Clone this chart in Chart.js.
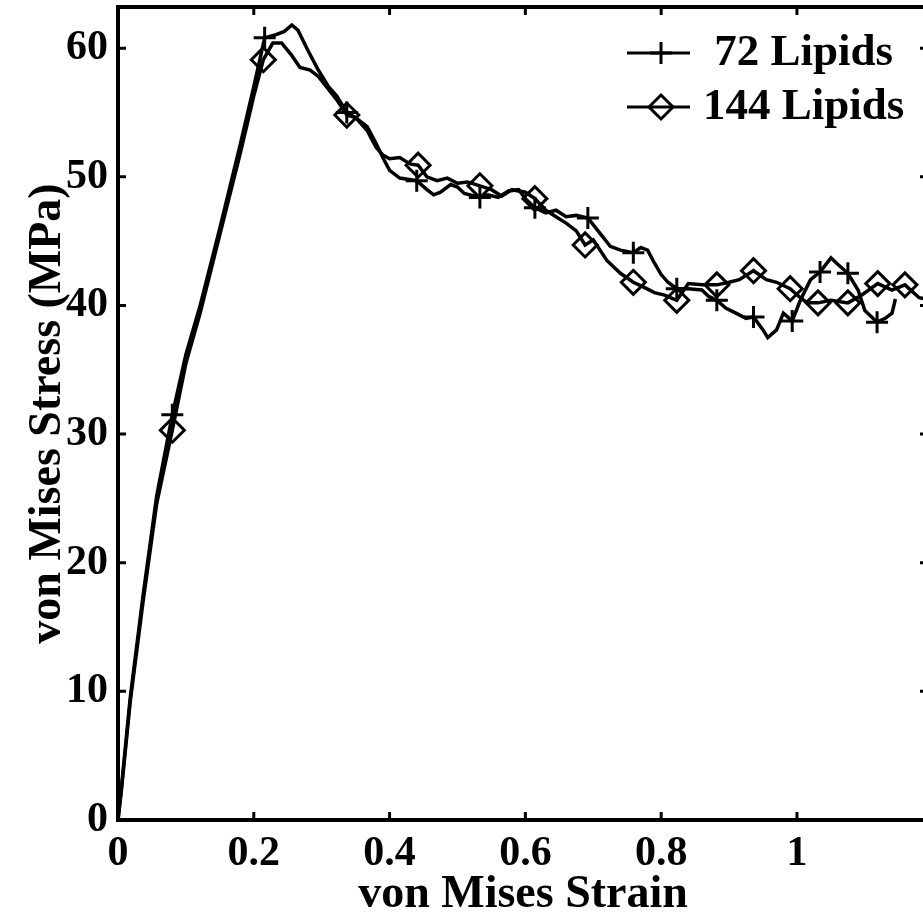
<!DOCTYPE html>
<html>
<head>
<meta charset="utf-8">
<script src="https://cdn.jsdelivr.net/npm/chart.js@4/dist/chart.umd.min.js"></script>
<style>
    html, body { margin: 0; padding: 0; background: #fff; overflow: hidden; }
    canvas { display: block; }
</style>
</head>
<body>
<canvas id="chart" width="940" height="923"></canvas>
<script>
// stress-strain curves
const strain72 = [
    0, 0.005, 0.018, 0.037, 0.057, 0.08, 0.10, 0.121, 0.15, 0.18,
    0.20, 0.216, 0.23, 0.245, 0.256, 0.265, 0.28, 0.295, 0.31, 0.322,
    0.337, 0.35, 0.367, 0.38, 0.39, 0.40, 0.415, 0.44, 0.455, 0.465,
    0.475, 0.49, 0.50, 0.51, 0.533, 0.545, 0.56, 0.575, 0.59, 0.60,
    0.614, 0.63, 0.645, 0.66, 0.675, 0.692, 0.71, 0.725, 0.74, 0.759,
    0.77, 0.78, 0.79, 0.80, 0.81, 0.823, 0.84, 0.86, 0.87, 0.882,
    0.895, 0.91, 0.925, 0.936, 0.95, 0.957, 0.97, 0.98, 0.993, 1.005,
    1.02, 1.034, 1.05, 1.06, 1.075, 1.09, 1.10, 1.118, 1.13, 1.14,
    1.145
];
const stress72 = [
    0, 2.5, 9.5, 17.5, 25.2, 31.5, 36.2, 40.0, 46.0, 52.5,
    57.0, 60.8, 61.0, 61.3, 61.8, 61.4, 59.8, 58.3, 57.0, 56.3,
    55.0, 54.6, 53.9, 52.6, 51.5, 50.5, 49.9, 49.7, 49.0, 48.6,
    48.8, 49.4, 49.2, 48.7, 48.4, 48.6, 48.4, 48.9, 49.0, 48.3,
    47.6, 47.2, 47.4, 46.9, 47.0, 46.8, 45.6, 44.6, 44.3, 44.1,
    44.5, 44.3, 43.3, 42.4, 41.8, 41.3, 41.3, 41.2, 40.7, 40.4,
    39.8, 39.4, 39.0, 39.1, 38.1, 37.5, 38.1, 39.4, 38.8, 40.4,
    42.0, 42.6, 43.7, 43.2, 42.5, 41.2, 39.6, 38.7, 39.0, 39.4,
    40.5
];
const marks72 = [0.08, 0.216, 0.337, 0.44, 0.533, 0.614, 0.692, 0.759, 0.823, 0.882, 0.936, 0.993, 1.034, 1.075, 1.118];

const strain144 = [
    0, 0.005, 0.018, 0.037, 0.057, 0.08, 0.10, 0.121, 0.15, 0.18,
    0.20, 0.214, 0.228, 0.241, 0.255, 0.268, 0.283, 0.295, 0.307, 0.322,
    0.337, 0.35, 0.367, 0.38, 0.39, 0.40, 0.415, 0.43, 0.442, 0.455,
    0.47, 0.485, 0.50, 0.515, 0.533, 0.55, 0.565, 0.58, 0.60, 0.614,
    0.63, 0.645, 0.66, 0.675, 0.688, 0.70, 0.71, 0.72, 0.74, 0.759,
    0.775, 0.79, 0.805, 0.823, 0.84, 0.86, 0.882, 0.90, 0.915, 0.936,
    0.955, 0.97, 0.99, 1.005, 1.015, 1.031, 1.05, 1.075, 1.095, 1.119,
    1.14, 1.159, 1.18, 1.2
];
const stress144 = [
    0, 2.3, 9.2, 17.0, 24.6, 30.3, 35.5, 39.4, 45.5, 51.8,
    56.3, 59.1, 60.4, 60.4, 59.5, 58.5, 58.3, 57.8, 57.0, 56.0,
    54.8, 54.6, 53.6, 52.3, 51.7, 51.4, 51.5, 51.0, 50.9, 50.0,
    49.7, 49.9, 49.5, 49.6, 49.3, 49.0, 48.5, 49.0, 48.8, 48.3,
    47.4, 46.9, 46.4, 45.8, 44.7, 45.1, 44.3, 43.5, 42.5, 41.8,
    41.4, 41.0, 40.8, 40.4, 41.7, 41.6, 41.6, 41.8, 42.0, 42.7,
    42.0, 41.8, 41.3, 40.6, 40.2, 40.2, 40.4, 40.2, 40.8, 41.7,
    41.2, 41.6, 40.6, 40.4
];
const marks144 = [0.08, 0.214, 0.337, 0.442, 0.533, 0.614, 0.688, 0.759, 0.823, 0.882, 0.936, 0.99, 1.031, 1.075, 1.119, 1.159];

const seriesLabels = [' 72 Lipids', '144 Lipids'];
const xTickValues = [0, 0.2, 0.4, 0.6, 0.8, 1];
const yTickValues = [0, 10, 20, 30, 40, 50, 60];

const FONT = "'Liberation Serif', 'DejaVu Serif', serif";

function toPoints(xs, ys) {
    let pts = [];
    for (let i = 0; i < xs.length; i++) {
        pts.push({ x: xs[i], y: ys[i] });
    }
    return pts;
}

function makeDataset(label, xs, ys, marks, style, size) {
    let radius = function (ctx) {
        let p = ctx.raw;
        return (p && marks.indexOf(p.x) !== -1) ? size : 0;
    };
    return {
        label: label,
        data: toPoints(xs, ys),
        showLine: true,
        borderColor: '#000',
        borderWidth: 3.5,
        tension: 0,
        pointStyle: style,
        pointBorderColor: '#000',
        pointBackgroundColor: 'rgba(0,0,0,0)',
        pointBorderWidth: 3,
        pointRadius: radius,
        pointHoverRadius: radius
    };
}

// box with inward ticks on all four sides, matlab style
const framePlugin = {
    id: 'frame',
    afterDatasetsDraw(chart) {
        const ctx = chart.ctx;
        const a = chart.chartArea;
        const xs = chart.scales.x, ys = chart.scales.y;
        const len = 8;
        ctx.save();
        ctx.strokeStyle = '#000';
        ctx.lineWidth = 3;
        ctx.beginPath();
        xs.ticks.forEach(t => {
            let px = xs.getPixelForValue(t.value);
            ctx.moveTo(px, a.bottom); ctx.lineTo(px, a.bottom - len);
            ctx.moveTo(px, a.top); ctx.lineTo(px, a.top + len);
        });
        ys.ticks.forEach(t => {
            let py = ys.getPixelForValue(t.value);
            ctx.moveTo(a.left, py); ctx.lineTo(a.left + len, py);
            ctx.moveTo(a.right, py); ctx.lineTo(a.right - len, py);
        });
        ctx.stroke();
        ctx.lineWidth = 4;
        ctx.strokeRect(a.left, a.top, a.right - a.left, a.bottom - a.top);
        ctx.restore();
    }
};

// legend inside the top right corner: line + marker + label
const legendPlugin = {
    id: 'boxLegend',
    afterDraw(chart) {
        const ctx = chart.ctx;
        const a = chart.chartArea;
        const x0 = a.right - 301;
        const rows = [a.top + 46, a.top + 100];
        ctx.save();
        chart.data.datasets.forEach((ds, i) => {
            let y = rows[i];
            ctx.strokeStyle = '#000';
            ctx.lineWidth = 3;
            ctx.beginPath();
            ctx.moveTo(x0, y);
            ctx.lineTo(x0 + 63, y);
            ctx.stroke();
            ctx.fillStyle = 'rgba(0,0,0,0)';
            Chart.helpers.drawPoint(ctx, {
                pointStyle: ds.pointStyle,
                radius: i === 0 ? 11 : 12,
                borderWidth: 3,
                rotation: 0
            }, x0 + 34, y);
            ctx.fillStyle = '#000';
            ctx.font = 'bold 45px ' + FONT;
            ctx.textBaseline = 'middle';
            ctx.textAlign = 'left';
            ctx.fillText(ds.label, x0 + 76, y);
        });
        ctx.restore();
    }
};

function noEdgePadding(s) {
    s.paddingTop = 0;
    s.paddingBottom = 0;
    s.paddingLeft = 0;
    s.paddingRight = 0;
}

const ctx = document.getElementById('chart');
new Chart(ctx, {
    type: 'scatter',
    data: {
        datasets: [
            makeDataset(seriesLabels[0], strain72, stress72, marks72, 'cross', 11),
            makeDataset(seriesLabels[1], strain144, stress144, marks144, 'rectRot', 12)
        ]
    },
    options: {
        responsive: false,
        devicePixelRatio: 1,
        animation: false,
        events: [],
        layout: { padding: { top: 7, right: 12, left: 0, bottom: 0 } },
        plugins: {
            legend: { display: false },
            tooltip: { enabled: false }
        },
        scales: {
            x: {
                type: 'linear',
                min: 0,
                max: 1.193,
                afterBuildTicks: s => { s.ticks = xTickValues.map(v => ({ value: v })); },
                afterFit: s => { s.height = 103; noEdgePadding(s); },
                grid: { display: false, drawTicks: false },
                border: { display: false },
                ticks: {
                    color: '#000',
                    padding: 9,
                    maxRotation: 0,
                    callback: v => String(v),
                    font: { family: FONT, size: 42, weight: 'bold' }
                },
                title: {
                    display: true,
                    text: 'von Mises Strain',
                    color: '#000',
                    padding: { top: 0, bottom: 0 },
                    font: { family: FONT, size: 46, weight: 'bold' }
                }
            },
            y: {
                min: 0,
                max: 63.2,
                afterBuildTicks: s => { s.ticks = yTickValues.map(v => ({ value: v })); },
                afterFit: s => { s.width = 118; noEdgePadding(s); },
                grid: { display: false, drawTicks: false },
                border: { display: false },
                ticks: {
                    color: '#000',
                    padding: 10,
                    font: { family: FONT, size: 42, weight: 'bold' }
                },
                title: {
                    display: true,
                    text: 'von Mises Stress (MPa)',
                    color: '#000',
                    padding: { top: 21, bottom: 0 },
                    font: { family: FONT, size: 46, weight: 'bold' }
                }
            }
        }
    },
    plugins: [framePlugin, legendPlugin]
});
</script>
</body>
</html>
